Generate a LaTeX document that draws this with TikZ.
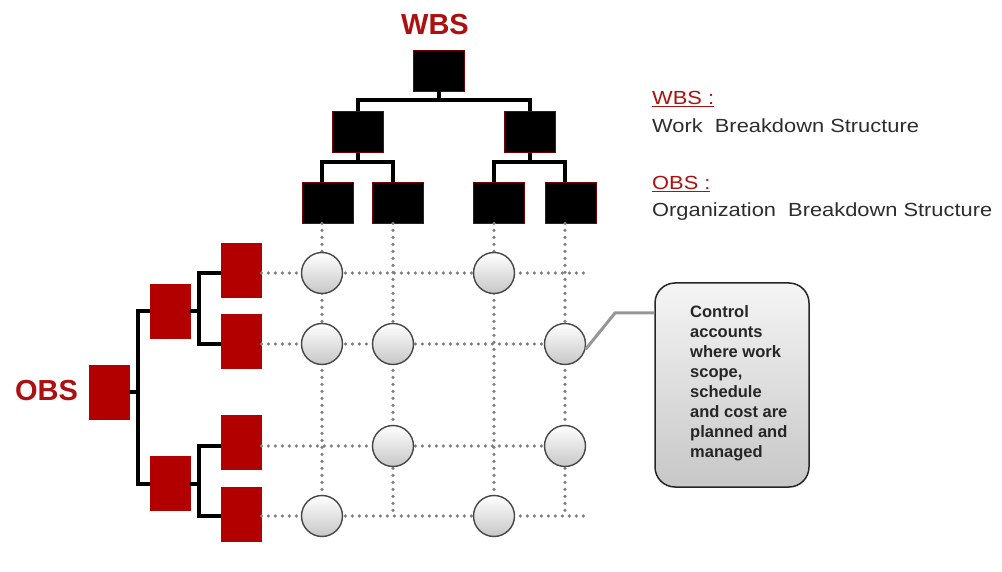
\documentclass[tikz,border=0pt]{standalone}
\usepackage{fontspec}
\setmainfont{Liberation Sans}
\newfontfamily\legendfont[FakeStretch=1.15]{Liberation Sans}
\definecolor{obsred}{RGB}{178,0,0}
\definecolor{titlered}{RGB}{172,16,16}
\definecolor{boxrim}{RGB}{120,0,0}
\definecolor{dotgray}{RGB}{125,125,125}
\definecolor{txtgray}{RGB}{45,45,45}
\definecolor{linkgray}{RGB}{150,150,150}
\begin{document}
\begin{tikzpicture}[x=1pt,y=-1pt,
  wbox/.style={draw=boxrim, line width=0.8pt, fill=black, minimum width=51pt, minimum height=41pt, inner sep=0pt},
  obox/.style={draw=obsred, fill=obsred, line width=0.6pt, minimum width=40pt, minimum height=54pt, inner sep=0pt},
  tree/.style={line width=4pt, black, line join=miter},
  gridline/.style={dotgray, line width=3.6pt, line cap=round, dash pattern=on 0pt off 7pt},
  cacc/.style={circle, draw=black!72, line width=1.4pt, top color=white, bottom color=black!22, minimum size=41pt, inner sep=0pt},
  calloutbox/.style={rectangle, rounded corners=20pt, draw=black!85, line width=1.5pt, top color=black!4, bottom color=black!22, minimum width=154pt, minimum height=204pt, inner sep=0pt},
  link/.style={linkgray, line width=3pt},
  legend/.style={font=\legendfont\fontsize{19}{23}\selectfont, inner sep=0pt, anchor=base west},
  bigtitle/.style={font=\bfseries\fontsize{29}{31}\selectfont, text=titlered, inner sep=0pt, anchor=base}
]
\path[use as bounding box] (0,0) rectangle (1002,572);

% columns / rows
\coordinate (c1) at (322,0);
\coordinate (c2) at (393,0);
\coordinate (c3) at (494,0);
\coordinate (c4) at (565,0);
\coordinate (r1) at (0,273);
\coordinate (r2) at (0,344);
\coordinate (r3) at (0,446);
\coordinate (r4) at (0,516);
\coordinate (ge) at (590,0);

% titles
\node[bigtitle] (wbs) at (435,35) {WBS};
\node[bigtitle] (obs) at (46.5,400) {OBS};

% WBS boxes
\node[wbox] (w0) at (438.5,70.5) {};
\node[wbox] (w1) at (357.5,132) {};
\node[wbox] (w2) at (530,132) {};
\node[wbox] (w3) at (327.5,202.5) {};
\node[wbox] (w4) at (398,202.5) {};
\node[wbox] (w5) at (499,202.5) {};
\node[wbox] (w6) at (570.5,202.5) {};

% OBS boxes
\node[obox] (o0) at (109,392) {};
\node[obox] (o1) at (170,311) {};
\node[obox] (o2) at (170,483.5) {};
\node[obox] (o3) at (241,270.5) {};
\node[obox] (o4) at (241,341.5) {};
\node[obox] (o5) at (241,442.5) {};
\node[obox] (o6) at (241,514.5) {};

% WBS tree
\coordinate (j0) at (438.5,100);
\coordinate (j1) at (357.5,162);
\coordinate (j2) at (530,162);
\draw[tree] (w0.south) -- (j0);
\draw[tree] (w1.north) |- (j0) -| (w2.north);
\draw[tree] (w1.south) -- (j1);
\draw[tree] (w3.north -| c1) |- (j1) -| (w4.north -| c2);
\draw[tree] (w2.south) -- (j2);
\draw[tree] (w5.north -| c3) |- (j2) -| (w6.north -| c4);

% OBS tree
\coordinate (k0) at (138,392);
\coordinate (k1) at (199,311);
\coordinate (k2) at (199,483.5);
\draw[tree] (o0.east) -- (k0);
\draw[tree] (o1.west) -| (k0) |- (o2.west);
\draw[tree] (o1.east) -- (k1);
\draw[tree] (o3.west |- r1) -| (k1) |- (o4.west |- r2);
\draw[tree] (o2.east) -- (k2);
\draw[tree] (o5.west |- r3) -| (k2) |- (o6.west |- r4);

% dotted grid
\draw[gridline] (o3.east |- r1) -- (ge |- r1);
\draw[gridline] (o4.east |- r2) -- (ge |- r2);
\draw[gridline] (o5.east |- r3) -- (ge |- r3);
\draw[gridline] (o6.east |- r4) -- (ge |- r4);
\draw[gridline] (w3.south -| c1) -- (c1 |- r4);
\draw[gridline] (w4.south -| c2) -- (c2 |- r4);
\draw[gridline] (w5.south -| c3) -- (c3 |- r4);
\draw[gridline] (w6.south -| c4) -- (c4 |- r4);

% control accounts
\node[cacc] (a11) at (c1 |- r1) {};
\node[cacc] (a13) at (c3 |- r1) {};
\node[cacc] (a21) at (c1 |- r2) {};
\node[cacc] (a22) at (c2 |- r2) {};
\node[cacc] (a24) at (c4 |- r2) {};
\node[cacc] (a32) at (c2 |- r3) {};
\node[cacc] (a34) at (c4 |- r3) {};
\node[cacc] (a41) at (c1 |- r4) {};
\node[cacc] (a43) at (c3 |- r4) {};

% callout
\node[calloutbox] (cbox) at (732,385) {};
\node[anchor=north west, inner sep=0pt, align=left, font=\bfseries\fontsize{16.5}{20}\selectfont, text=black!85] (ctext) at (690,305)
  {Control\\accounts\\where work\\scope,\\schedule\\and cost are\\planned and\\managed};
\coordinate (bend) at (615,313);
\draw[link] (a24.-15) -- (bend) -- (bend -| cbox.west);

% legend
\node[legend, text=titlered] (lw) at (652,105) {\underline{WBS :}};
\node[legend, text=txtgray] (lwt) at (652,133) {Work\ \ Breakdown Structure};
\node[legend, text=titlered] (lo) at (652,190) {\underline{OBS :}};
\node[legend, text=txtgray] (lot) at (652,217) {Organization\ \ Breakdown Structure};
\end{tikzpicture}
\end{document}
